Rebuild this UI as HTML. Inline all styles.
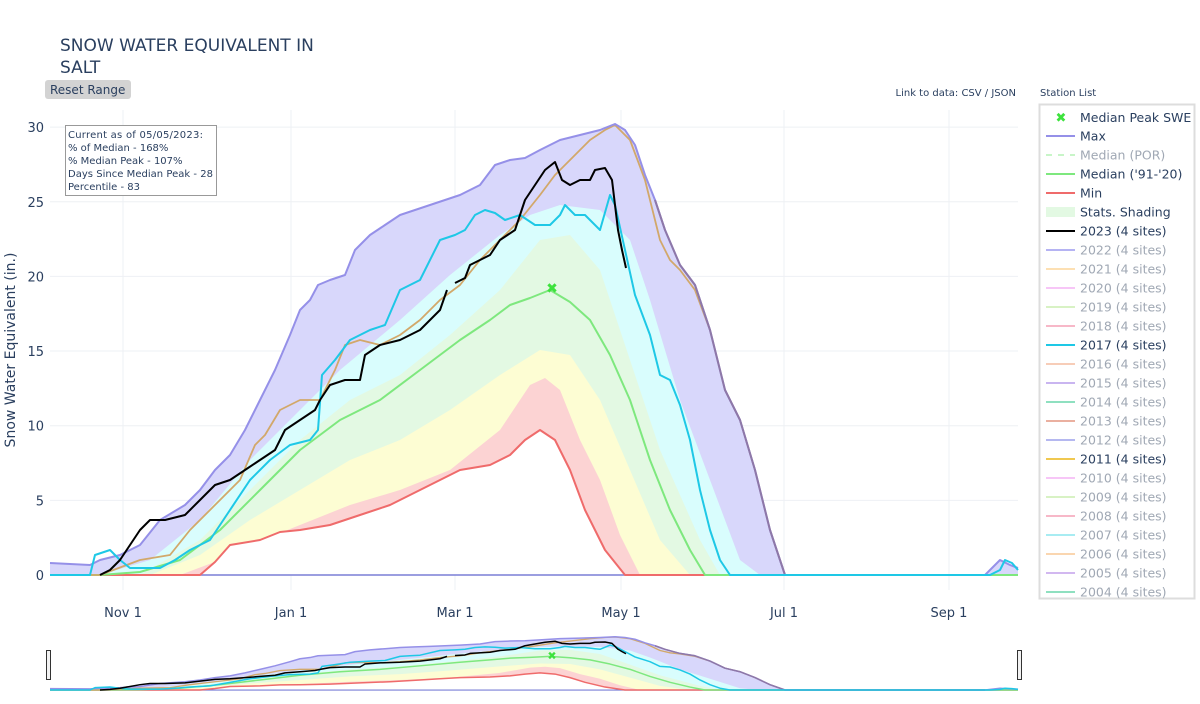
<!DOCTYPE html>
<html><head><meta charset="utf-8"><style>
body{margin:0;background:#fff;width:1200px;height:700px;overflow:hidden;font-family:"DejaVu Sans","Liberation Sans",sans-serif;}
svg text{font-family:"DejaVu Sans","Liberation Sans",sans-serif;}
</style></head><body>
<svg id="s" width="1200" height="700" xmlns="http://www.w3.org/2000/svg">
<g id="grid"></g>
<g id="main"></g>
<g id="slider"></g>
<text x="60" y="51" font-size="17" fill="#2a3f5f">SNOW WATER EQUIVALENT IN</text>
<text x="60" y="73" font-size="17" fill="#2a3f5f">SALT</text>
<rect x="45" y="80" width="86" height="19" rx="3" fill="#d3d3d3"/>
<text x="50" y="94" font-size="12" fill="#2a3f5f">Reset Range</text>
<text x="1016" y="96" font-size="10" fill="#2a3f5f" text-anchor="end">Link to data: CSV / JSON</text>
<text x="1040" y="96" font-size="10" fill="#2a3f5f">Station List</text>
<rect x="65.5" y="125.5" width="151" height="70" fill="#fff" stroke="#999"/>
<g font-size="10" fill="#2a3f5f">
<text x="68" y="138" textLength="135">Current as of 05/05/2023:</text>
<text x="68" y="151">% of Median - 168%</text>
<text x="68" y="164">% Median Peak - 107%</text>
<text x="68" y="177" textLength="145">Days Since Median Peak - 28</text>
<text x="68" y="190">Percentile - 83</text>
</g>
<text transform="translate(15,350) rotate(-90)" font-size="14" fill="#2a3f5f" text-anchor="middle">Snow Water Equivalent (in.)</text>
<g id="legend"></g>
</svg>
<script>
var S=document.getElementById('s');
function el(p,t,a){var e=document.createElementNS('http://www.w3.org/2000/svg',t);for(var k in a)e.setAttribute(k,a[k]);p.appendChild(e);return e;}
var G=document.getElementById('grid'),M=document.getElementById('main'),SL=document.getElementById('slider'),L=document.getElementById('legend');
[30,25,20,15,10,5].forEach(function(v){var y=575-14.93*v;el(G,'line',{x1:50,x2:1018,y1:y,y2:y,stroke:'#eef0f4'});});
[123,291,455,621,784,949].forEach(function(x){el(G,'line',{x1:x,x2:x,y1:110,y2:590,stroke:'#eef0f4'});});
[30,25,20,15,10,5,0].forEach(function(v){var t=el(G,'text',{x:44,y:575-14.93*v+5,'font-size':13,fill:'#2a3f5f','text-anchor':'end'});t.textContent=v;});
[['Nov  1',123],['Jan  1',291],['Mar  1',455],['May  1',621],['Jul  1',784],['Sep  1',949]].forEach(function(a){var t=el(G,'text',{x:a[1],y:617,'font-size':13,fill:'#2a3f5f','text-anchor':'middle','xml:space':'preserve'});t.textContent=a[0];});
function P(a){return a.map(function(p){return p[0]+','+p[1];}).join(' ');}
var max=[[50,563],[90,565],[100,560],[120,555],[140,545],[160,520],[185,505],[200,490],[215,470],[230,455],[245,430],[260,400],[275,370],[290,335],[300,310],[310,300],[318,285],[330,280],[345,275],[355,250],[370,235],[385,225],[400,215],[415,210],[430,205],[445,200],[460,195],[480,185],[495,165],[510,160],[525,158],[540,150],[560,140],[580,135],[600,130],[615,124],[625,130],[635,145],[645,175],[655,200],[665,230],[680,265],[695,285],[710,330],[725,390],[740,420],[755,470],[770,530],[785,575],[985,575],[1000,560],[1010,565],[1018,568]];
var cyanS=[[50,575],[100,575],[150,560],[200,520],[250,460],[300,410],[340,370],[400,320],[450,275],[500,235],[530,215],[560,205],[600,210],[630,240],[650,300],[680,400],[710,480],[740,560],[760,575],[1018,575]];
var greenS=[[50,575],[140,575],[200,540],[250,490],[300,440],[350,400],[400,375],[450,335],[500,290],[540,240],[570,235],[600,270],[630,360],[660,450],[700,540],[720,575],[1018,575]];
var yelS=[[50,575],[150,575],[200,555],[250,520],[300,490],[350,460],[400,440],[450,410],[500,375],[540,350],[570,355],[600,400],[630,470],[660,540],[690,575],[1018,575]];
var redS=[[50,575],[180,575],[220,560],[250,545],[300,525],[350,505],[400,490],[450,470],[500,430],[530,385],[545,378],[560,390],[580,440],[600,480],[620,535],[640,575],[1018,575]];
var min=[[50,575],[200,575],[215,562],[230,545],[260,540],[280,532],[300,530],[330,525],[360,515],[390,505],[420,490],[440,480],[460,470],[490,465],[510,455],[525,440],[540,430],[555,440],[570,470],[585,510],[605,550],[625,575],[1018,575]];
var med=[[50,575],[100,575],[140,572],[180,560],[220,530],[260,490],[300,450],[340,420],[380,400],[420,370],[460,340],[490,320],[510,305],[530,298],[550,290],[570,302],[590,320],[610,355],[630,400],[650,460],[670,510],[690,550],[705,575],[1018,575]];
var y11=[[50,575],[100,575],[140,560],[170,555],[190,530],[215,505],[240,480],[255,445],[265,435],[280,410],[300,400],[320,400],[335,370],[345,345],[360,340],[380,345],[400,335],[420,320],[440,300],[460,285],[480,260],[500,240],[520,220],[540,195],[555,175],[570,160],[590,140],[605,130],[615,125],[630,140],[645,180],[660,240],[670,260],[680,270],[695,290],[710,330],[725,390],[740,420],[755,470],[770,530],[785,575]];
var y17=[[50,575],[90,575],[95,555],[110,550],[120,560],[130,568],[160,568],[175,560],[190,550],[210,540],[230,510],[250,480],[270,460],[290,445],[310,440],[318,430],[322,375],[335,360],[350,340],[370,330],[385,325],[400,290],[410,285],[420,280],[440,240],[455,235],[465,230],[475,215],[485,210],[495,213],[505,220],[520,215],[535,225],[550,225],[560,215],[565,205],[575,215],[585,215],[595,225],[600,230],[610,195],[615,205],[625,250],[635,295],[650,335],[660,375],[670,380],[680,405],[690,440],[700,490],[710,530],[720,560],[730,575],[990,575],[1000,570],[1005,560],[1012,563],[1018,570]];
var b1=[[100,575],[110,570],[120,560],[130,545],[140,530],[150,520],[165,520],[185,515],[200,500],[215,485],[230,480],[245,470],[260,460],[275,450],[285,430],[300,420],[315,410],[320,400],[330,385],[345,380],[360,380],[365,355],[380,345],[400,340],[420,330],[440,310],[447,290]];
var b2=[[455,283],[465,278],[470,265],[490,255],[500,240],[515,230],[525,200],[535,185],[545,170],[555,162],[562,180],[570,185],[580,180],[590,180],[595,170],[605,168],[612,180],[618,230],[622,250],[626,268]];
function draw(g,tf,sw){
 function T(a){return a.map(function(p){return [p[0],tf(p[1])];});}
 function area(a,c){el(g,'polygon',{points:P(T([[a[0][0],575]].concat(a,[[a[a.length-1][0],575]]))),fill:c});}
 area(max,'#d8d7fb');area(cyanS,'#d9fdfd');area(greenS,'#e3f9e3');area(yelS,'#fdfdd3');area(redS,'#fcd3d3');area(min,'#ffffff');
 function line(a,c,w){el(g,'polyline',{points:P(T(a)),fill:'none',stroke:c,'stroke-width':w,'stroke-linejoin':'round'});}
 line([[50,575],[1018,575]],'#7a7fd6',sw*1.5);
 line(min,'#ef6b6b',sw*2);line(med,'#7ee87e',sw*2);line(y11,'#d2a86a',sw*1.8);line(max,'#9590e8',sw*2);
 line(max.slice(39,50),'#8e78a8',sw*2);
 line(y17,'#1ec8e6',sw*2);line(b1,'#000',sw*2);line(b2,'#000',sw*2);
 var c=T([[552,289]])[0];var t=el(g,'text',{x:c[0],y:c[1]+(sw<1?3:4),'font-size':sw<1?11:14,'font-weight':'bold',fill:'#3de23d','text-anchor':'middle'});t.textContent='✖';
}
draw(M,function(y){return y;},1);
draw(SL,function(y){return 690-(575-y)*0.118;},0.75);
el(SL,'rect',{x:46.5,y:650.5,width:4,height:29,fill:'#f2f2f2',stroke:'#333'});
el(SL,'rect',{x:1017.5,y:650.5,width:4,height:29,fill:'#f2f2f2',stroke:'#333'});
el(L,'rect',{x:1039.5,y:104.5,width:155,height:494,fill:'#fff',stroke:'#ddd','stroke-width':2});
var items=[['Max','#9590e8',1],['Median (POR)','#c8f5c8',0,'dash'],["Median ('91-'20)",'#7ee87e',1],['Min','#ef6b6b',1],['Stats. Shading','#e3f9e3',1,'band'],['2023 (4 sites)','#000',1],['2022 (4 sites)','#b5b3f3',0],['2021 (4 sites)','#fde0b3',0],['2020 (4 sites)','#f7c6f7',0],['2019 (4 sites)','#d8f2c4',0],['2018 (4 sites)','#f7b8c8',0],['2017 (4 sites)','#1ec8e6',1],['2016 (4 sites)','#f7cdb8',0],['2015 (4 sites)','#c9b5f0',0],['2014 (4 sites)','#8fe0c0',0],['2013 (4 sites)','#eab0a0',0],['2012 (4 sites)','#b5b8f0',0],['2011 (4 sites)','#f0c850',1],['2010 (4 sites)','#f7c6f7',0],['2009 (4 sites)','#d8f2c4',0],['2008 (4 sites)','#f7b8c8',0],['2007 (4 sites)','#a8ecf2',0],['2006 (4 sites)','#fad6b0',0],['2005 (4 sites)','#d2b8f0',0],['2004 (4 sites)','#8fe0c0',0]];
var t=el(L,'text',{x:1061,y:122,'font-size':13,'font-weight':'bold',fill:'#3de23d','text-anchor':'middle'});t.textContent='✖';
t=el(L,'text',{x:1080,y:122,'font-size':12.5,fill:'#2a3f5f'});t.textContent='Median Peak SWE';
items.forEach(function(it,i){var y=136+i*19;
 if(it[3]=='band')el(L,'rect',{x:1046,y:y-5,width:29,height:10,fill:it[1]});
 else el(L,'line',{x1:1046,x2:1075,y1:y,y2:y,stroke:it[1],'stroke-width':2,'stroke-dasharray':it[3]=='dash'?'6,6':'none'});
 var t=el(L,'text',{x:1080,y:y+4.5,'font-size':12.5,fill:it[2]?'#2a3f5f':'#a0a8b4'});t.textContent=it[0];});
</script>
</body></html>
